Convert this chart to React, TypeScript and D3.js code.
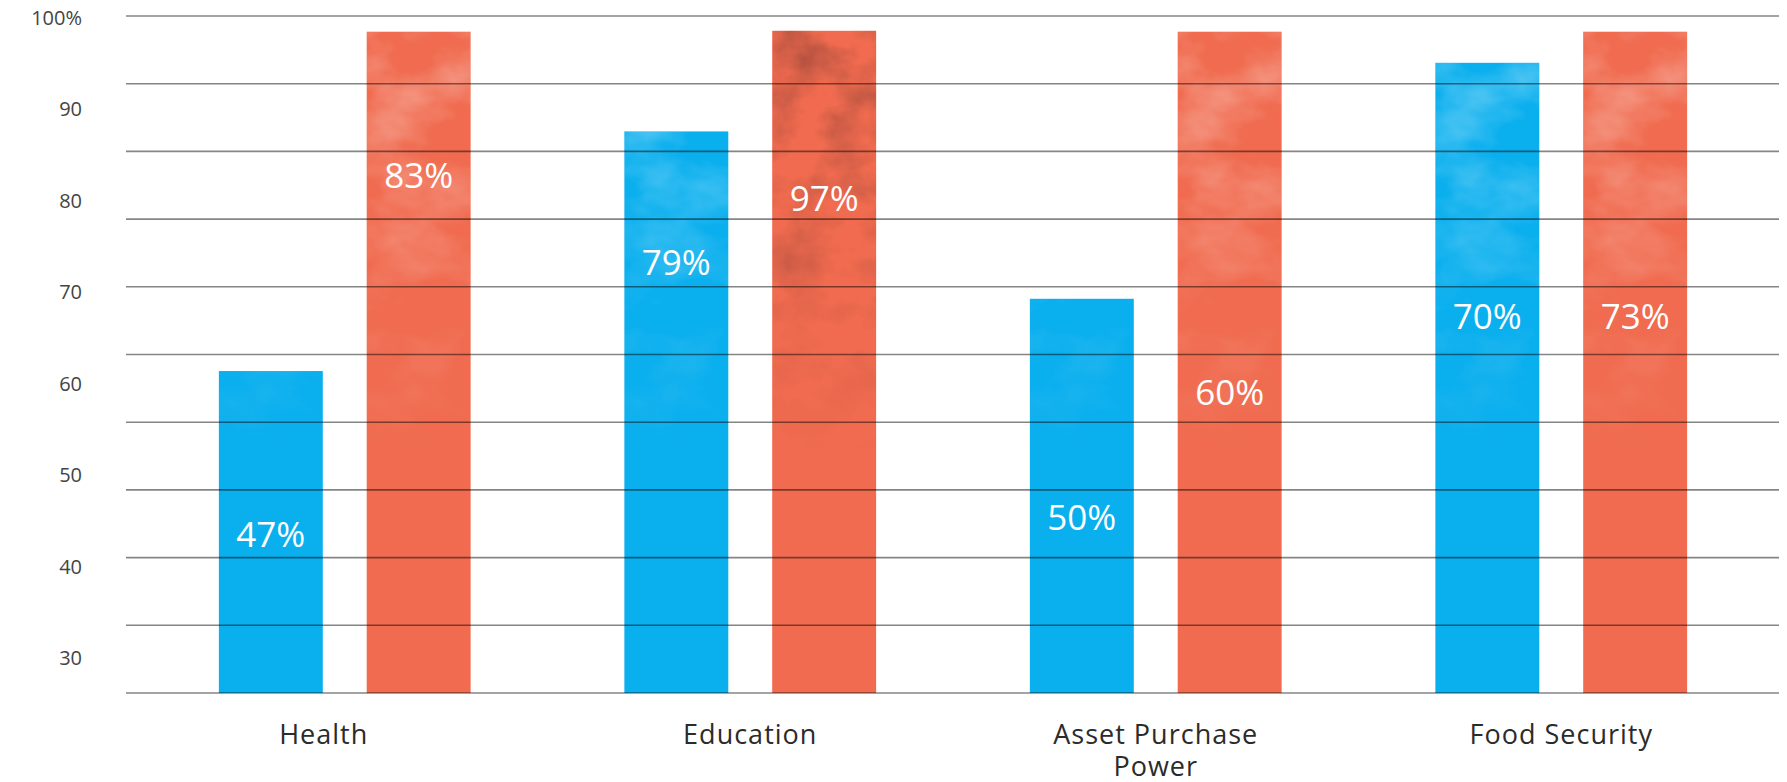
import React, { useEffect, useRef } from 'react';
import * as d3 from 'd3';

// chart values
const categories = ['Health', 'Education', 'Asset Purchase Power', 'Food Security'];
const categoryLines = [['Health'], ['Education'], ['Asset Purchase', 'Power'], ['Food Security']];
const seriesKeys = ['blue', 'red'];
const blueHeights = [61.4, 87.6, 69.3, 95.1];
const redHeights = [98.5, 98.6, 98.5, 98.5];
const blueLabels = ['47%', '79%', '50%', '70%'];
const redLabels = ['83%', '97%', '60%', '73%'];
const blueLabelLevels = [43.5, 73.2, 45.4, 67.3];
const redLabelLevels = [82.8, 80.2, 59.0, 67.3];
const yTicks = [30, 40, 50, 60, 70, 80, 90, 100];
const gridSteps = d3.range(0, 11);

const W = 1787;
const H = 782;
const colors = { blue: '#0aafee', red: '#f06b4f' };

const App = () => {
    const ref = useRef<SVGSVGElement>(null);

    useEffect(() => {
        document.body.style.margin = '0';
        const svg = d3.select(ref.current);
        svg.selectAll('*').remove();

        const top = 16, bottom = 693, left = 126, right = 1779;
        const y = d3.scaleLinear().domain([26.2, 100]).range([bottom, 18]);
        const grid = d3.scaleLinear().domain([0, 10]).range([bottom, top]);
        const x0 = d3.scaleBand().domain(categories).range([142, 1764]);
        const x1 = d3.scaleBand().domain(seriesKeys).range([0, x0.bandwidth()])
            .paddingInner(0.297).paddingOuter(0.52);

        const rows = categories.flatMap((cat, i) => [
            { cat, i, key: 'blue', value: blueHeights[i], label: blueLabels[i], level: blueLabelLevels[i] },
            { cat, i, key: 'red', value: redHeights[i], label: redLabels[i], level: redLabelLevels[i] },
        ]);

        // watercolour wash
        const defs = svg.append('defs');
        const makeWash = (id, rgb, seed, gain, freq) => {
            const f = defs.append('filter').attr('id', id)
                .attr('x', 0).attr('y', 0).attr('width', 1).attr('height', 1);
            f.append('feTurbulence').attr('type', 'fractalNoise')
                .attr('baseFrequency', freq).attr('numOctaves', 4).attr('seed', seed).attr('result', 'n');
            f.append('feColorMatrix').attr('in', 'n').attr('type', 'matrix')
                .attr('values', `0 0 0 0 ${rgb[0]} 0 0 0 0 ${rgb[1]} 0 0 0 0 ${rgb[2]} ${gain} 0 0 0 ${-gain * 0.42}`)
                .attr('result', 'w');
            f.append('feComposite').attr('in', 'w').attr('in2', 'SourceAlpha').attr('operator', 'in');
        };
        makeWash('washLight', [1, 1, 1], 7, 1.6, '0.012 0.018');
        makeWash('washDark', [0.3, 0.06, 0.04], 3, 1.8, '0.02 0.025');

        const grad = defs.append('linearGradient').attr('id', 'fadeGrad')
            .attr('gradientUnits', 'userSpaceOnUse').attr('x1', 0).attr('x2', 0).attr('y1', 20).attr('y2', 460);
        grad.append('stop').attr('offset', 0).attr('stop-color', '#fff');
        grad.append('stop').attr('offset', 0.4).attr('stop-color', '#bbb');
        grad.append('stop').attr('offset', 1).attr('stop-color', '#000');
        defs.append('mask').attr('id', 'fadeTop').attr('maskUnits', 'userSpaceOnUse')
            .attr('x', 0).attr('y', 0).attr('width', W).attr('height', H)
            .append('rect').attr('width', W).attr('height', H).attr('fill', 'url(#fadeGrad)');

        const isDark = (d) => d.key === 'red' && d.i === 1;

        const gBars = svg.append('g');
        const bar = gBars.selectAll('g').data(rows).enter().append('g')
            .attr('transform', (d) => `translate(${x0(d.cat) + x1(d.key)},0)`);
        bar.append('rect')
            .attr('y', (d) => y(d.value))
            .attr('width', x1.bandwidth())
            .attr('height', (d) => bottom - y(d.value))
            .attr('fill', (d) => colors[d.key]);
        bar.append('rect')
            .attr('y', (d) => y(d.value))
            .attr('width', x1.bandwidth())
            .attr('height', (d) => bottom - y(d.value))
            .attr('fill', '#fff')
            .attr('mask', 'url(#fadeTop)')
            .attr('opacity', (d) => (isDark(d) ? 0.8 : 0.5))
            .attr('filter', (d) => (isDark(d) ? 'url(#washDark)' : 'url(#washLight)'));

        // gridlines sit over the bars
        svg.append('g').selectAll('line').data(gridSteps).enter().append('line')
            .attr('x1', left).attr('x2', right)
            .attr('y1', (d) => grid(d)).attr('y2', (d) => grid(d))
            .attr('stroke', '#000').attr('stroke-opacity', 0.48).attr('stroke-width', 1.6);

        // y labels
        svg.append('g').selectAll('text').data(yTicks).enter().append('text')
            .attr('x', 82).attr('y', (d) => y(d))
            .attr('dy', '0.35em')
            .attr('text-anchor', 'end')
            .attr('font-family', 'Open Sans, sans-serif').attr('font-size', 20)
            .attr('fill', '#444')
            .text((d) => (d === 100 ? '100%' : `${d}`));

        // value labels
        bar.append('text')
            .attr('x', x1.bandwidth() / 2)
            .attr('y', (d) => y(d.level))
            .attr('dy', '0.35em')
            .attr('text-anchor', 'middle')
            .attr('font-family', 'Open Sans, sans-serif').attr('font-size', 35)
            .attr('fill', '#fff')
            .text((d) => d.label);

        // category labels (the first one sits a little left of its group in the original)
        const labelShift = [-21, 0, 0, 0];
        const cats = svg.append('g').selectAll('text').data(categories).enter().append('text')
            .attr('y', 744)
            .attr('text-anchor', 'middle')
            .attr('font-family', 'Open Sans, sans-serif').attr('font-size', 27)
            .attr('letter-spacing', 1)
            .attr('fill', '#2b2b2b');
        cats.each(function (d, i) {
            d3.select(this).selectAll('tspan').data(categoryLines[i]).enter().append('tspan')
                .attr('x', x0(d) + x0.bandwidth() / 2 + labelShift[i])
                .attr('dy', (l, j) => (j === 0 ? 0 : 32))
                .text((l) => l);
        });
    }, []);

    return <svg ref={ref} width={W} height={H} style={{ display: 'block' }} />;
};

export default App;
